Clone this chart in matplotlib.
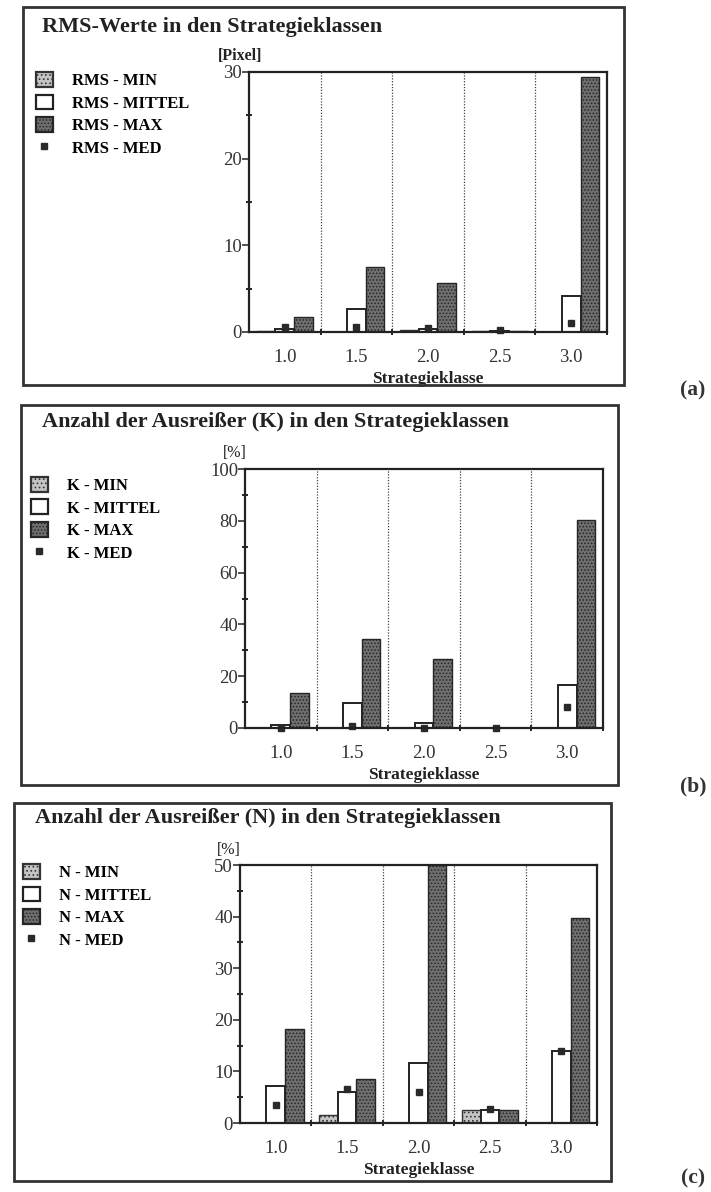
import numpy as np
import matplotlib
matplotlib.use('Agg')
import matplotlib.pyplot as plt
from matplotlib.patches import Patch, Rectangle
from matplotlib.lines import Line2D

plt.rcParams['font.family'] = ['Liberation Serif', 'DejaVu Serif']
plt.rcParams['hatch.linewidth'] = 0.7

W, H = 711, 1192

klassen = ['1.0', '1.5', '2.0', '2.5', '3.0']

# RMS-Werte [Pixel]
rms_min = [0.1, 0.0, 0.2, 0.1, 0.0]
rms_mittel = [0.4, 2.7, 0.3, 0.1, 4.2]
rms_max = [1.7, 7.5, 5.6, 0.1, 29.4]
rms_med = [0.6, 0.6, 0.5, 0.2, 1.0]

# Ausreisser K [%]
k_min = [0.0, 0.0, 0.0, 0.0, 0.0]
k_mittel = [1.2, 9.5, 2.0, 0.0, 16.6]
k_max = [13.4, 34.2, 26.6, 0.0, 80.3]
k_med = [0.0, 0.6, 0.0, 0.0, 8.2]

# Ausreisser N [%]
n_min = [0.0, 1.6, 0.0, 2.6, 0.0]
n_mittel = [7.2, 6.0, 11.7, 2.6, 14.0]
n_max = [18.2, 8.6, 50.0, 2.6, 39.7]
n_med = [3.5, 6.6, 6.0, 2.8, 14.0]

MIN_STYLE = dict(facecolor='#c4c4c4', edgecolor='#333333', hatch='....')
MAX_STYLE = dict(facecolor='#6f6f6f', edgecolor='#262626', hatch='.....')


def fx(px):
    return px / W


def fy(py):
    return 1 - py / H


def draw_panel(fig, rect, box, title, title_xy, prefix, leg_xy, unit, unit_xy,
               unit_bold, mins, mittel, maxs, med, ymax, major, letter,
               letter_y):
    l, t, r, b = rect
    ax = fig.add_axes([fx(l), fy(b), (r - l) / W, (b - t) / H])
    x = np.arange(len(klassen))
    w = 0.26
    ax.bar(x - w, mins, w, linewidth=1, **MIN_STYLE)
    ax.bar(x, mittel, w, facecolor='white', edgecolor='#222222',
           linewidth=1.4)
    ax.bar(x + w, maxs, w, linewidth=1, **MAX_STYLE)
    ax.plot(x, med, 's', color='#2a2a2a', markersize=4.5, linestyle='none',
            clip_on=False)

    # gepunktete Trennlinien zwischen den Klassen
    for s in [0.5, 1.5, 2.5, 3.5]:
        ax.axvline(s, color='#444444', lw=0.9, ls=(0, (1, 1.3)))

    ax.set_xlim(-0.5, 4.5)
    ax.set_ylim(0, ymax)
    ax.set_yticks(np.arange(0, ymax + 0.1, major))
    ax.set_yticks(np.arange(major / 2, ymax, major), minor=True)
    ax.set_xticks(x, klassen)
    ax.set_xticks([0.5, 1.5, 2.5, 3.5, 4.5], minor=True)
    ax.tick_params(axis='x', which='major', length=0, pad=12, labelsize=13.5,
                   colors='#333333')
    ax.tick_params(axis='x', which='minor', length=4, direction='inout',
                   width=1.2)
    ax.tick_params(axis='y', which='major', length=5, direction='out',
                   width=1.2, labelsize=13.5, pad=0, colors='#333333')
    ax.tick_params(axis='y', which='minor', length=4, direction='inout',
                   width=1.2)
    for sp in ax.spines.values():
        sp.set_linewidth(1.6)
        sp.set_color('#222222')
    ax.set_xlabel('Strategieklasse', fontsize=12.5, fontweight='bold',
                  labelpad=4, color='#222222')

    handles = [
        Patch(lw=1.6, **MIN_STYLE),
        Patch(facecolor='white', edgecolor='#222222', lw=1.6),
        Patch(lw=1.6, **MAX_STYLE),
        Line2D([], [], marker='s', color='#2a2a2a', markersize=4.5,
               linestyle='none'),
    ]
    labels = [prefix + ' - MIN', prefix + ' - MITTEL',
              prefix + ' - MAX', prefix + ' - MED']
    ax.legend(handles, labels, loc='upper left',
              bbox_to_anchor=(fx(leg_xy[0]), fy(leg_xy[1])),
              bbox_transform=fig.transFigure, frameon=False,
              borderpad=0, borderaxespad=0, handlelength=1.0,
              handleheight=1.0, handletextpad=1.15, labelspacing=0.32,
              prop={'size': 12, 'weight': 'bold'})

    fig.text(fx(title_xy[0]), fy(title_xy[1]), title, fontsize=16,
             fontweight='bold', va='center', ha='left', color='#222222')
    fig.text(fx(unit_xy[0]), fy(unit_xy[1]), unit, fontsize=11.5,
             fontweight='bold' if unit_bold else 'normal',
             va='center', ha='left', color='#222222')
    fig.text(fx(693), fy(letter_y), letter, fontsize=15.5, fontweight='bold',
             va='center', ha='center', color='#333333')

    bl, bt, br, bb = box
    fig.add_artist(Rectangle((fx(bl), fy(bb)), (br - bl) / W, (bb - bt) / H,
                             transform=fig.transFigure, fill=False,
                             lw=2, edgecolor='#333333'))
    return ax


fig = plt.figure(figsize=(W / 100, H / 100), dpi=100)

draw_panel(fig, (249, 72, 607, 332), (23, 7, 624, 385),
           'RMS-Werte in den Strategieklassen', (42, 27), 'RMS', (36, 72),
           '[Pixel]', (218, 56), True, rms_min, rms_mittel, rms_max, rms_med,
           30, 10, '(a)', 390)

draw_panel(fig, (245, 469, 603, 728), (21, 405, 618, 785),
           'Anzahl der Ausreißer (K) in den Strategieklassen', (42, 422),
           'K', (31, 477), '[%]', (223, 453), False, k_min, k_mittel, k_max,
           k_med, 100, 20, '(b)', 786)

draw_panel(fig, (240, 865, 597, 1123), (14, 803, 611, 1181),
           'Anzahl der Ausreißer (N) in den Strategieklassen', (35, 818),
           'N', (23, 864), '[%]', (217, 850), False, n_min, n_mittel, n_max,
           n_med, 50, 10, '(c)', 1178)

fig.savefig('out.png', dpi=100)
